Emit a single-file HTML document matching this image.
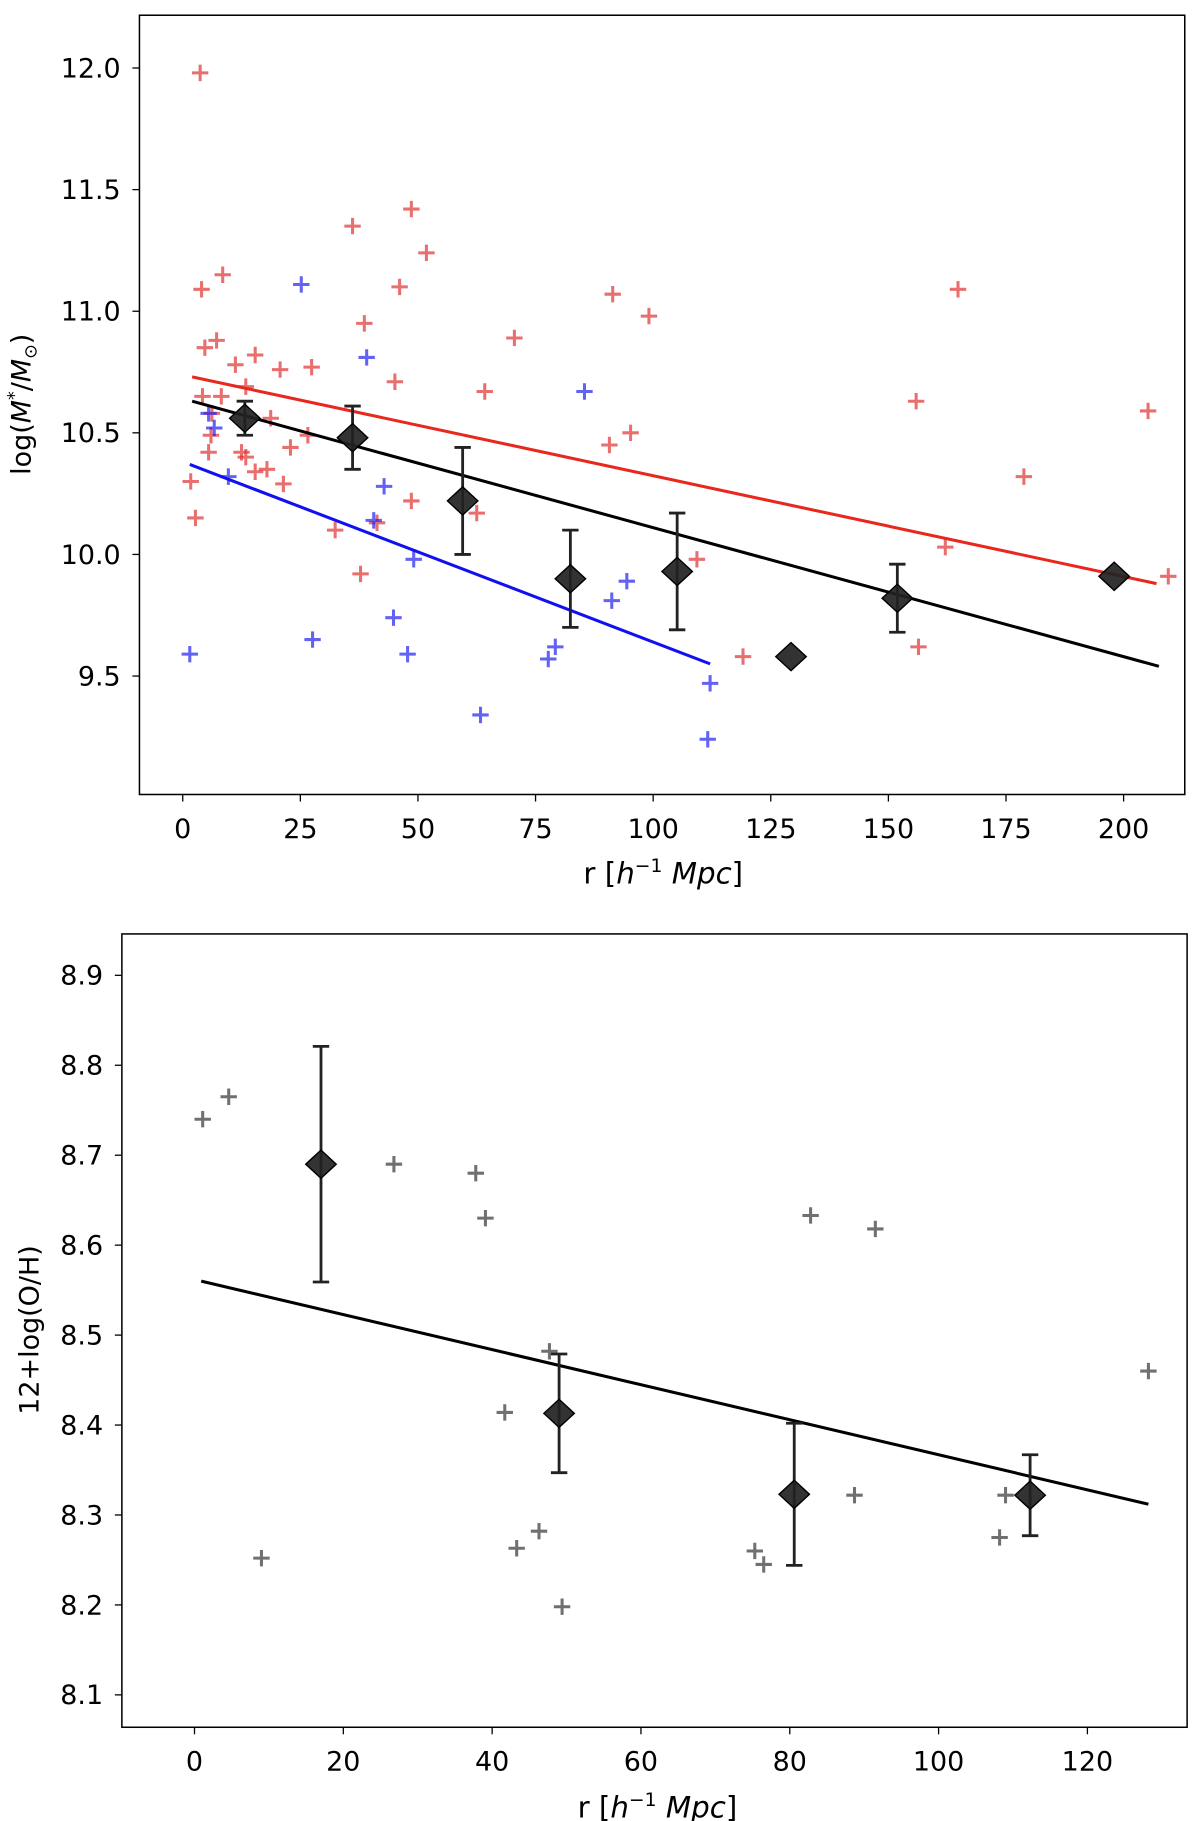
<!DOCTYPE html>
<html><head><meta charset="utf-8">
<style>
html,body{margin:0;padding:0;background:#fff;}
svg{display:block;font-family:"DejaVu Sans","Liberation Sans",sans-serif;}
</style></head>
<body>
<svg id="fig" width="1200" height="1821" viewBox="0 0 1024 1554" preserveAspectRatio="none" xmlns="http://www.w3.org/2000/svg"></svg>
<script>
// ---- Top panel data ----
const redX = [3.7,4.0,8.5,4.7,7.2,4.2,8.2,6.2,6.0,5.5,1.7,2.7,11.2,15.4,13.4,12.5,13.4,15.4,17.9,18.7,20.7,21.4,22.9,27.4,26.6,32.4,36.1,38.6,37.8,41.3,46.1,45.1,48.6,48.6,51.8,62.5,64.2,70.5,91.4,99.1,90.7,95.2,109.3,119.1,155.9,156.4,162.1,164.8,178.8,205.2,209.5];
const redY = [11.98,11.09,11.15,10.85,10.88,10.65,10.65,10.58,10.49,10.42,10.30,10.15,10.78,10.82,10.69,10.42,10.40,10.34,10.35,10.56,10.76,10.29,10.44,10.77,10.49,10.10,11.35,10.95,9.92,10.13,11.10,10.71,11.42,10.22,11.24,10.17,10.67,10.89,11.07,10.98,10.45,10.50,9.98,9.58,10.63,9.62,10.03,11.09,10.32,10.59,9.91];
const blueX = [1.5,5.5,6.7,9.7,25.2,27.6,39.1,40.6,42.8,44.8,47.8,49.1,77.7,79.2,85.4,91.2,94.4,63.3,112.1,111.6];
const blueY = [9.59,10.58,10.52,10.32,11.11,9.65,10.81,10.14,10.28,9.74,9.59,9.98,9.57,9.62,10.67,9.81,9.89,9.34,9.47,9.24];
const binX = [13.2,36.1,59.5,82.4,105.1,129.3,151.9,198.0];
const binY = [10.56,10.48,10.22,9.90,9.93,9.58,9.82,9.91];
const binErr = [0.07,0.13,0.22,0.20,0.24,0,0.14,0];
const redFitX = [2,207]; const redFitY = [10.73,9.88];
const blackFitX = [2,207.5]; const blackFitY = [10.63,9.54];
const blueFitX = [1.5,112.1]; const blueFitY = [10.37,9.55];
const topXTicks = [0,25,50,75,100,125,150,175,200];
const topYTicks = [9.5,10.0,10.5,11.0,11.5,12.0];
const topYTickLabels = ["9.5","10.0","10.5","11.0","11.5","12.0"];
// ---- Bottom panel data ----
const ohX = [1.1,4.6,9.0,26.8,37.8,39.1,41.7,43.3,46.3,47.7,49.4,75.3,76.5,82.8,88.7,91.5,108.2,109.0,128.2];
const ohY = [8.74,8.765,8.252,8.69,8.68,8.63,8.414,8.263,8.282,8.482,8.198,8.26,8.245,8.633,8.322,8.618,8.275,8.322,8.46];
const ohBinX = [17.0,49.0,80.6,112.3];
const ohBinY = [8.69,8.413,8.323,8.322];
const ohBinErr = [0.131,0.066,0.079,0.045];
const ohFitX = [0.9,128.2]; const ohFitY = [8.560,8.312];
const botXTicks = [0,20,40,60,80,100,120];
const botYTicks = [8.1,8.2,8.3,8.4,8.5,8.6,8.7,8.8,8.9];

const NS="http://www.w3.org/2000/svg";
const svg=document.getElementById('fig');
function mk(tag,attrs,parent){const e=document.createElementNS(NS,tag);for(const k in attrs)e.setAttribute(k,attrs[k]);(parent||svg).appendChild(e);return e;}

function panel(name,box,xr,yr){
  const g=mk('g',{});
  
  
  const sx=v=>box.l+(v-xr[0])/(xr[1]-xr[0])*(box.r-box.l);
  const sy=v=>box.b-(v-yr[0])/(yr[1]-yr[0])*(box.b-box.t);
  return {g,sx,sy,box};
}
function frame(p){
  const r=mk('rect',{x:p.box.l,y:p.box.t,width:p.box.r-p.box.l,height:p.box.b-p.box.t,fill:'none',stroke:'#000','stroke-width':1.3},p.g);
  
  
}
function ticks(p,xt,xl,yt,yl){
  xt.forEach((v,i)=>{const x=p.sx(v);
    mk('line',{x1:x,x2:x,y1:p.box.b,y2:p.box.b+6,stroke:'#000','stroke-width':1.1},p.g);
    const t=mk('text',{x:x,y:p.box.b+37,'text-anchor':'middle','font-size':23,fill:'#000'},p.g);
    t.textContent=xl[i];
    
    
  });
  yt.forEach((v,i)=>{const y=p.sy(v);
    mk('line',{x1:p.box.l-6,x2:p.box.l,y1:y,y2:y,stroke:'#000','stroke-width':1.1},p.g);
    const t=mk('text',{x:p.box.l-16,y:y+8,'text-anchor':'end','font-size':23,fill:'#000'},p.g);
    t.textContent=yl[i];
    
    
  });
}
function plus(p,xs,ys,color,name){
  xs.forEach((v,i)=>{const x=p.sx(v),y=p.sy(ys[i]);
    const e=mk('path',{d:`M${x-7},${y}H${x+7}M${x},${y-7}V${y+7}`,stroke:color,'stroke-width':2.6,'stroke-opacity':0.7},p.g);
    
    
  });
}
function fit(p,xs,ys,color,name){
  const e=mk('line',{x1:p.sx(xs[0]),y1:p.sy(ys[0]),x2:p.sx(xs[1]),y2:p.sy(ys[1]),stroke:color,'stroke-width':2.6},p.g);
  
  
}
function bins(p,xs,ys,errs){
  xs.forEach((v,i)=>{const x=p.sx(v),y=p.sy(ys[i]);
    if(errs[i]>0){const y1=p.sy(ys[i]+errs[i]),y2=p.sy(ys[i]-errs[i]);
      const e=mk('path',{d:`M${x},${y1}V${y2}M${x-7},${y1}H${x+7}M${x-7},${y2}H${x+7}`,stroke:'#222','stroke-width':2.4,fill:'none'},p.g);
      
      
    }
    const d=mk('path',{d:`M${x-13},${y}L${x},${y-12}L${x+13},${y}L${x},${y+12}Z`,fill:'#222','fill-opacity':0.92,stroke:'#000','stroke-width':1.2},p.g);
    
    
  });
}

// Top panel
const P1=panel('stellar-mass-panel',{l:119,r:1011,t:13,b:678},[-9.2,213],[9.013,12.217]);
plus(P1,redX,redY,'#e03030','red-galaxy-point');
plus(P1,blueX,blueY,'#2020f0','blue-galaxy-point');
fit(P1,redFitX,redFitY,'#e8281e','red-fit-line');
fit(P1,blackFitX,blackFitY,'#000','all-fit-line');
fit(P1,blueFitX,blueFitY,'#1010f0','blue-fit-line');
bins(P1,binX,binY,binErr);
frame(P1);
ticks(P1,topXTicks,topXTicks.map(String),topYTicks,topYTickLabels);
let t=mk('text',{x:566,y:754,'text-anchor':'middle','font-size':25},P1.g);
t.innerHTML='r [<tspan font-style="italic">h</tspan><tspan font-size="16" dy="-10">−1</tspan><tspan dy="10" font-style="italic"> Mpc</tspan>]';


t=mk('text',{x:0,y:0,'text-anchor':'middle','font-size':23,transform:'translate(26,345) rotate(-90)'},P1.g);
t.innerHTML='log(<tspan font-style="italic">M</tspan><tspan font-size="15" dy="-9">*</tspan><tspan dy="9">/</tspan><tspan font-style="italic">M</tspan><tspan font-size="15" dy="5">⊙</tspan><tspan dy="-5">)</tspan>';



// Bottom panel
const P2=panel('metallicity-panel',{l:104,r:1013,t:797,b:1474},[-9.76,133.4],[8.064,8.946]);
plus(P2,ohX,ohY,'#333','metallicity-point');
fit(P2,ohFitX,ohFitY,'#000','metallicity-fit-line');
bins(P2,ohBinX,ohBinY,ohBinErr);
frame(P2);
ticks(P2,botXTicks,botXTicks.map(String),botYTicks,botYTicks.map(v=>v.toFixed(1)));
t=mk('text',{x:561,y:1551,'text-anchor':'middle','font-size':25},P2.g);
t.innerHTML='r [<tspan font-style="italic">h</tspan><tspan font-size="16" dy="-10">−1</tspan><tspan dy="10" font-style="italic"> Mpc</tspan>]';


t=mk('text',{x:0,y:0,'text-anchor':'middle','font-size':23,transform:'translate(33,1135) rotate(-90)'},P2.g);
t.textContent='12+log(O/H)';


</script>
</body></html>
